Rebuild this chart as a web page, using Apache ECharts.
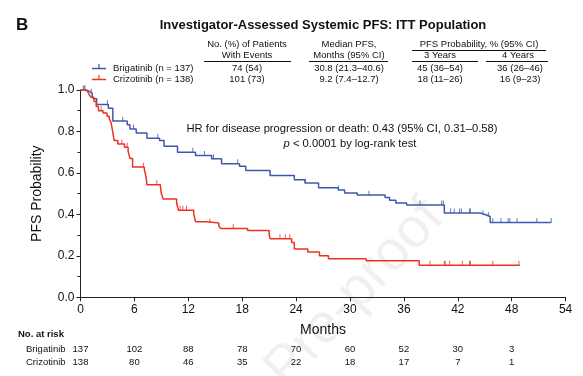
<!DOCTYPE html>
<html><head><meta charset="utf-8">
<script src="https://cdn.jsdelivr.net/npm/echarts@6/dist/echarts.min.js"></script>
<style>html,body{margin:0;padding:0;background:#fff}#c{width:583px;height:376px}</style>
</head><body><div id="c"></div>
<script>
const FONT = '"Liberation Sans", Arial, sans-serif';
const BLUE = '#3B5BAA', RED = '#EE3124';

// ---- data ----
const seriesNames = ['Brigatinib', 'Crizotinib'];
const legendLabels = ['Brigatinib (n = 137)', 'Crizotinib (n = 138)'];
const eventsCol = ['74 (54)', '101 (73)'];
const medianCol = ['30.8 (21.3\u201340.6)', '9.2 (7.4\u201312.7)'];
const year3Col = ['45 (36\u201354)', '18 (11\u201326)'];
const year4Col = ['36 (26\u201346)', '16 (9\u201323)'];

// KM steps: [month, survival]
const brigSteps = [[0,1.0],[0.7,0.993],[1.0,0.985],[1.3,0.97],[1.5,0.958],[1.8,0.93],[3.1,0.912],[3.6,0.85],[5.2,0.832],[5.5,0.812],[6.2,0.793],[7.4,0.767],[8.8,0.756],[9.3,0.729],[10.8,0.70],[12.8,0.684],[14.6,0.668],[15.7,0.644],[17.7,0.632],[18.4,0.612],[21.1,0.588],[23.8,0.567],[25.0,0.551],[26.5,0.529],[28.7,0.518],[29.4,0.503],[30.8,0.493],[33.9,0.481],[34.4,0.468],[35.1,0.455],[36.3,0.445],[40.5,0.407],[44.5,0.398],[45.1,0.39],[45.6,0.361],[52.4,0.361]];
const crizSteps = [[0,1.0],[0.5,0.993],[0.8,0.985],[1.0,0.975],[1.2,0.964],[1.5,0.944],[1.75,0.921],[2.0,0.90],[2.5,0.889],[2.95,0.873],[3.2,0.861],[3.4,0.844],[3.6,0.796],[3.75,0.756],[4.15,0.740],[4.9,0.724],[5.3,0.705],[5.5,0.67],[5.8,0.628],[7.1,0.618],[7.3,0.58],[7.4,0.543],[8.9,0.532],[9.0,0.50],[9.2,0.474],[10.7,0.455],[10.9,0.42],[12.6,0.404],[12.8,0.365],[14.1,0.359],[15.4,0.343],[15.6,0.332],[18.6,0.322],[21.0,0.302],[21.1,0.283],[23.5,0.264],[23.8,0.233],[25.3,0.218],[26.6,0.201],[27.6,0.186],[31.8,0.176],[37.7,0.155],[48.9,0.155]];

// censoring times (months)
const brigCensor = [0.3,0.5,1.2,3.0,4.7,5.9,8.6,12.5,13.8,14.8,17.5,25.0,28.7,32.1,37.8,40.2,40.4,41.2,41.6,42.2,42.4,43.3,43.4,44.8,45.4,45.9,46.8,47.6,47.8,48.6,50.8,52.4];
const crizCensor = [0.4,2.3,4.6,5.2,7.0,8.5,11.1,11.4,11.8,14.4,17.0,22.2,22.8,23.3,38.9,40.5,40.6,41.1,42.5,43.3,43.4,45.9,48.8];

// number at risk
const riskMonths = [0,6,12,18,24,30,36,42,48];
const brigRisk = [137,102,88,78,70,60,52,30,3];
const crizRisk = [138,80,46,35,22,18,17,7,1];

const xMax = 54, xInterval = 6;
const yMax = 1.0, yInterval = 0.2;

// ---- helpers ----
function survAt(steps, t){ let s = steps[0][1]; for (const p of steps){ if (p[0] <= t) s = p[1]; } return s; }
const brigCensorPts = brigCensor.map(t => [t, survAt(brigSteps, t)]);
const crizCensorPts = crizCensor.map(t => [t, survAt(crizSteps, t)]);

const TBL = '9.5px ' + FONT;
function txt(text, x, y, opt){
  opt = opt || {};
  return { type:'text', silent:true, z: 10, style:{ text, x, y, font: opt.font || TBL, fill: opt.fill || '#111',
    textAlign: opt.align || 'center', align: opt.align || 'center', textVerticalAlign:'middle', verticalAlign:'middle' } };
}
function ln(x1,y1,x2,y2,color,w){ return { type:'line', silent:true, z: 10, shape:{x1,y1,x2,y2}, style:{stroke: color || '#111', lineWidth: w || 1} }; }

const chart = echarts.init(document.getElementById('c'), null, {renderer:'canvas'});

const graphics = [];
graphics.push(txt('B', 16, 25, {font:'bold 17px ' + FONT, align:'left'}));
graphics.push(txt('Investigator-Assessed Systemic PFS: ITT Population', 323, 25, {font:'bold 13px ' + FONT}));
// column headers
graphics.push(txt('No. (%) of Patients', 247, 44));
graphics.push(txt('With Events', 247, 55));
graphics.push(ln(204, 61.5, 291, 61.5));
graphics.push(txt('Median PFS,', 349, 44));
graphics.push(txt('Months (95% CI)', 349, 55));
graphics.push(ln(309, 61.5, 388, 61.5));
graphics.push(txt('PFS Probability, % (95% CI)', 479, 44));
graphics.push(ln(412, 50.5, 546, 50.5));
graphics.push(txt('3 Years', 440, 55));
graphics.push(ln(412, 61.5, 478, 61.5));
graphics.push(txt('4 Years', 518, 55));
graphics.push(ln(486, 61.5, 548, 61.5));
const rowY = [68, 79];
const rowColors = [BLUE, RED];
for (let i = 0; i < 2; i++){
  const y = rowY[i];
  graphics.push(ln(92, y + 0.5, 106, y + 0.5, rowColors[i], 1.5));
  graphics.push(ln(99, y - 4, 99, y + 0.5, rowColors[i], 1.2));
  graphics.push(txt(legendLabels[i], 113, y, {align:'left'}));
  graphics.push(txt(eventsCol[i], 247, y));
  graphics.push(txt(medianCol[i], 349, y));
  graphics.push(txt(year3Col[i], 440, y));
  graphics.push(txt(year4Col[i], 520, y));
}
// HR annotation
graphics.push(txt('HR for disease progression or death: 0.43 (95% CI, 0.31\u20130.58)', 342, 129, {font:'11.2px ' + FONT}));
graphics.push({ type:'text', silent:true, z:10, style:{ text:'{i|p} < 0.0001 by log-rank test', x:350, y:144,
  font:'11.2px ' + FONT, fill:'#111', textAlign:'center', align:'center', textVerticalAlign:'middle', verticalAlign:'middle',
  rich:{ i:{ fontStyle:'italic', fontSize:11.2, fontFamily: FONT, fill:'#111' } } } });
// watermark
graphics.push({ type:'text', silent:true, z: 0, x: 355, y: 294, rotation: 0.82,
  style:{ text:'Pre-proof', font:'56px ' + FONT, fill:'rgba(0,0,0,0.06)', textAlign:'center', align:'center', textVerticalAlign:'middle', verticalAlign:'middle' } });
// number at risk heading
graphics.push(txt('No. at risk', 18, 334, {font:'bold 9.5px ' + FONT, align:'left'}));
graphics.push(txt('Brigatinib', 26, 349, {align:'left'}));
graphics.push(txt('Crizotinib', 26, 362, {align:'left'}));

const option = {
  animation:false,
  backgroundColor:'#fff',
  textStyle:{ fontFamily: FONT },
  grid:{ left:80.5, right:17.4, top:90, bottom:78.7, containLabel:false },
  xAxis:{ type:'value', min:0, max:xMax, interval:xInterval,
    name:'Months', nameLocation:'middle', nameGap:26, nameTextStyle:{ fontSize:14, color:'#111', fontFamily:FONT },
    axisLine:{ onZero:false, lineStyle:{ color:'#222', width:1 } },
    axisTick:{ show:true, inside:false, length:4, lineStyle:{ color:'#222' } },
    axisLabel:{ fontSize:12, color:'#111', margin:6, fontFamily:FONT },
    splitLine:{ show:false } },
  yAxis:{ type:'value', min:0, max:yMax, interval:yInterval,
    name:'PFS Probability', nameLocation:'middle', nameGap:36, nameTextStyle:{ fontSize:14, color:'#111', fontFamily:FONT },
    axisLine:{ show:true, lineStyle:{ color:'#222', width:1 } },
    axisTick:{ show:true, inside:false, length:4, lineStyle:{ color:'#222' } },
    minorTick:{ show:true, splitNumber:2, length:3, lineStyle:{ color:'#222' } },
    axisLabel:{ fontSize:12, color:'#111', margin:6, fontFamily:FONT, formatter: v => v.toFixed(1) },
    splitLine:{ show:false } },
  series:[
    { name:seriesNames[0], type:'line', step:'end', data:brigSteps, showSymbol:false, symbol:'none',
      lineStyle:{ color:BLUE, width:1.5 }, z:3 },
    { name:seriesNames[1], type:'line', step:'end', data:crizSteps, showSymbol:false, symbol:'none',
      lineStyle:{ color:RED, width:1.5 }, z:3 },
    { name:seriesNames[0] + ' censored', type:'scatter', data:brigCensorPts, symbol:'rect', symbolSize:[1,4.5], symbolOffset:[0,-2.2],
      itemStyle:{ color:BLUE }, z:4 },
    { name:seriesNames[1] + ' censored', type:'scatter', data:crizCensorPts, symbol:'rect', symbolSize:[1,4.5], symbolOffset:[0,-2.2],
      itemStyle:{ color:RED }, z:4 }
  ],
  graphic: graphics
};
chart.setOption(option);

// at-risk numbers placed via the x axis scale
const riskGraphics = [];
riskMonths.forEach((m, i) => {
  const px = chart.convertToPixel({ xAxisIndex:0 }, m);
  riskGraphics.push(txt(String(brigRisk[i]), px, 349));
  riskGraphics.push(txt(String(crizRisk[i]), px, 362));
});
chart.setOption({ graphic: graphics.concat(riskGraphics) });
</script>
</body></html>
